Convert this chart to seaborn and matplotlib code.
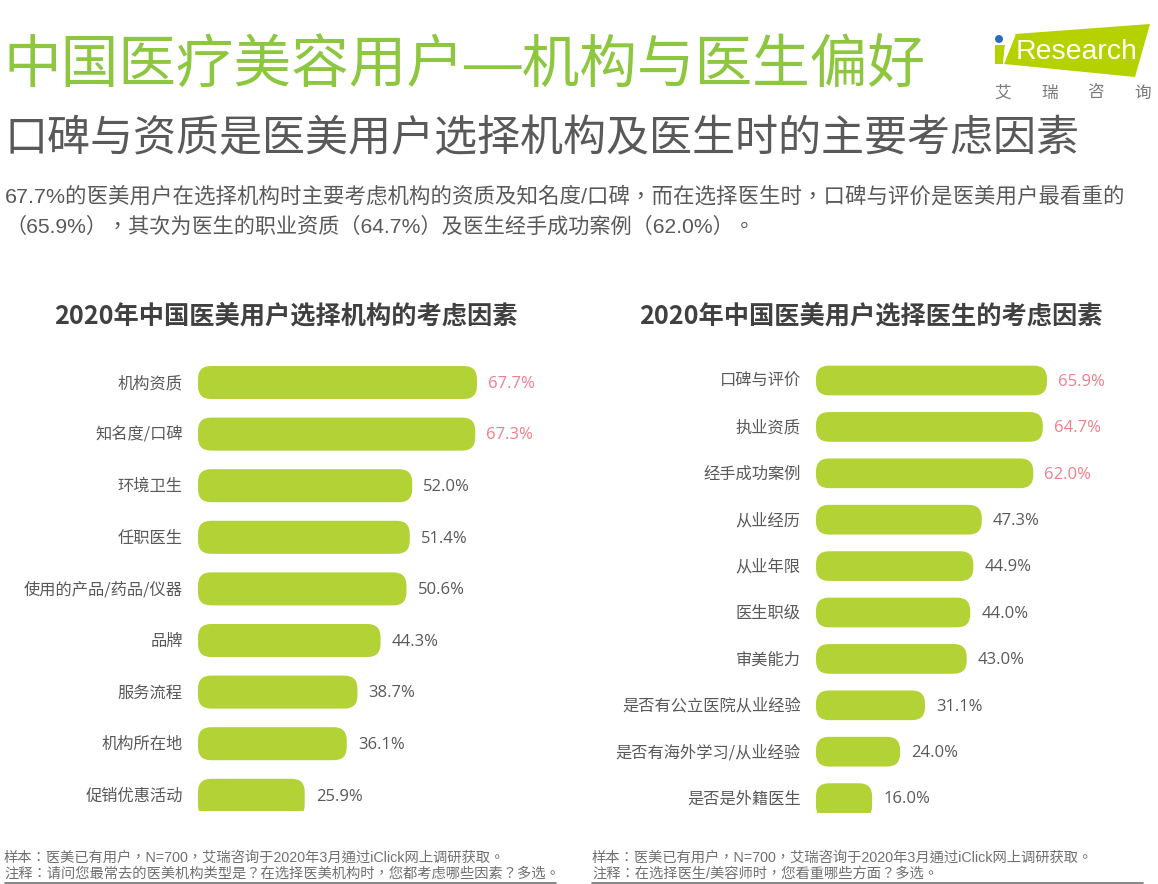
import pandas as pd
import seaborn as sns
import matplotlib.pyplot as plt
from matplotlib.patches import FancyBboxPatch, Polygon, Circle
from matplotlib.lines import Line2D
from matplotlib.transforms import ScaledTranslation

W, H = 1158, 884

sns.set_theme(style="white")
plt.rcParams['font.family'] = ['Noto Sans CJK SC', 'DejaVu Sans']

# data
org_factors = ["机构资质", "知名度/口碑", "环境卫生", "任职医生", "使用的产品/药品/仪器",
               "品牌", "服务流程", "机构所在地", "促销优惠活动"]
org_values = [67.7, 67.3, 52.0, 51.4, 50.6, 44.3, 38.7, 36.1, 25.9]
doc_factors = ["口碑与评价", "执业资质", "经手成功案例", "从业经历", "从业年限",
               "医生职级", "审美能力", "是否有公立医院从业经验", "是否有海外学习/从业经验", "是否是外籍医生"]
doc_values = [65.9, 64.7, 62.0, 47.3, 44.9, 44.0, 43.0, 31.1, 24.0, 16.0]

title = "中国医疗美容用户—机构与医生偏好"
subtitle = "口碑与资质是医美用户选择机构及医生时的主要考虑因素"
intro1 = "67.7%的医美用户在选择机构时主要考虑机构的资质及知名度/口碑，而在选择医生时，口碑与评价是医美用户最看重的"
intro2 = "（65.9%），其次为医生的职业资质（64.7%）及医生经手成功案例（62.0%）。"
org_title = "2020年中国医美用户选择机构的考虑因素"
doc_title = "2020年中国医美用户选择医生的考虑因素"
sample = "样本：医美已有用户，N=700，艾瑞咨询于2020年3月通过iClick网上调研获取。"
org_note = "注释：请问您最常去的医美机构类型是？在选择医美机构时，您都考虑哪些因素？多选。"
doc_note = "注释：在选择医生/美容师时，您看重哪些方面？多选。"

GREEN = "#B2D235"
GREY = "#595959"
PINK = "#EE7F8B"
LATIN_TC = ["Liberation Sans", "Noto Sans CJK TC"]

fig = plt.figure(figsize=(W / 100, H / 100), dpi=100)


def fx(x):
    return x / W


def fy(y):
    return 1 - y / H


def put(x, y, s, **kw):
    kw.setdefault("va", "center")
    kw.setdefault("color", GREY)
    fig.text(fx(x), fy(y), s, **kw)


def draw_panel(factors, values, left, top, bottom, px_per_unit, step, highlight, radius=13):
    ax = fig.add_axes([fx(left), fy(bottom), 80 * px_per_unit / W, (bottom - top) / H])
    df = pd.DataFrame({"factor": factors, "value": values})
    sns.barplot(data=df, y="factor", x="value", color=GREEN, width=0.64, saturation=1,
                orient="h", ax=ax)
    ax.set_xlim(0, 80)
    ax.set_ylim((bottom - top) / step - 0.5, -0.5)
    ax.set_xlabel("")
    ax.set_ylabel("")
    ax.set_xticks([])
    ax.tick_params(axis="y", length=0, pad=11, labelsize=11.7, labelcolor=GREY)
    nudge = ScaledTranslation(0, 1 / 100, fig.dpi_scale_trans)
    for lab in ax.get_yticklabels():
        lab.set_va("center_baseline")
        lab.set_transform(lab.get_transform() + nudge)
    sns.despine(ax=ax, left=True, bottom=True)
    ax.patch.set_alpha(0)

    labels = ax.bar_label(ax.containers[0], fmt="%.1f%%", padding=8, fontsize=12,
                          color=GREY, family=["Open Sans", "DejaVu Sans"])
    for lab, v in zip(labels, values):
        lab.xyann = (8, -1)
        if v >= highlight:
            lab.set_color(PINK)

    # swap the square bars for rounded ones of the same size
    bars = list(ax.containers[0])
    for bar in bars:
        x, y = bar.get_xy()
        w, h = bar.get_width(), bar.get_height()
        bar.set_visible(False)
        # the last bar runs under the axes edge, so its bottom comes out flat
        if bar is bars[-1]:
            h += 6 / step
        ax.add_patch(FancyBboxPatch((x, y), w, h,
                                    boxstyle="round,pad=0,rounding_size=%f" % (radius / px_per_unit),
                                    mutation_aspect=px_per_unit / step,
                                    fc=GREEN, ec="none"))
    return ax


draw_panel(org_factors, org_values, 198, 356.7, 811, 4.12, 51.6, 60)
draw_panel(doc_factors, doc_values, 816, 357.3, 813, 3.505, 46.4, 60)

# headings
put(3, 67, title, fontsize=41.5, color="#8DC63F", family=["Liberation Sans", "Noto Sans CJK SC"])
put(4, 139, subtitle, fontsize=31)
put(5, 196, intro1, fontsize=15.45, family=LATIN_TC)
put(5, 227, intro2, fontsize=15.2, family=LATIN_TC)
put(286, 316, org_title, fontsize=18.2, fontweight="bold", ha="center", color="#404040")
put(871, 316, doc_title, fontsize=18.2, fontweight="bold", ha="center", color="#404040")

# footer
put(4, 858, sample, fontsize=10.3, color="#707070", family=LATIN_TC)
put(4, 874, org_note, fontsize=10.3, color="#707070", family=LATIN_TC)
put(592, 858, sample, fontsize=10.3, color="#707070", family=LATIN_TC)
put(592, 874, doc_note, fontsize=10.3, color="#707070", family=LATIN_TC)
for x0, x1 in [(5, 556), (592, 1143)]:
    fig.add_artist(Line2D([fx(x0), fx(x1)], [fy(882.5), fy(882.5)], color="#707070", lw=1.2))

# logo
logo = [(1015, 34), (1150, 24), (1135, 77), (1004, 64)]
fig.add_artist(Polygon([(fx(a), fy(b)) for a, b in logo], closed=True, fc="#B5D100", ec="none",
                       transform=fig.transFigure))
stem = [(995, 45), (1005, 45), (1003, 64), (995, 64)]
fig.add_artist(Polygon([(fx(a), fy(b)) for a, b in stem], closed=True, fc="#B5D100", ec="none",
                       transform=fig.transFigure))
fig.add_artist(Polygon([(fx(1005), fy(45)), (fx(1016), fy(34)), (fx(1004), fy(64)), (fx(1003), fy(64))],
                       closed=True, fc="white", ec="none", transform=fig.transFigure))
fig.add_artist(Circle((999, H - 39), 4, fc="#2A6EBB", ec="none", transform=None))
put(1077, 52, "Research", fontsize=20.5, color="white", ha="center", family="Liberation Sans")
for x, ch in zip([1003, 1050, 1096, 1143], "艾瑞咨询"):
    put(x, 93, ch, fontsize=12, color="#7A7A7A", ha="center")

plt.savefig("out.png", dpi=100)
